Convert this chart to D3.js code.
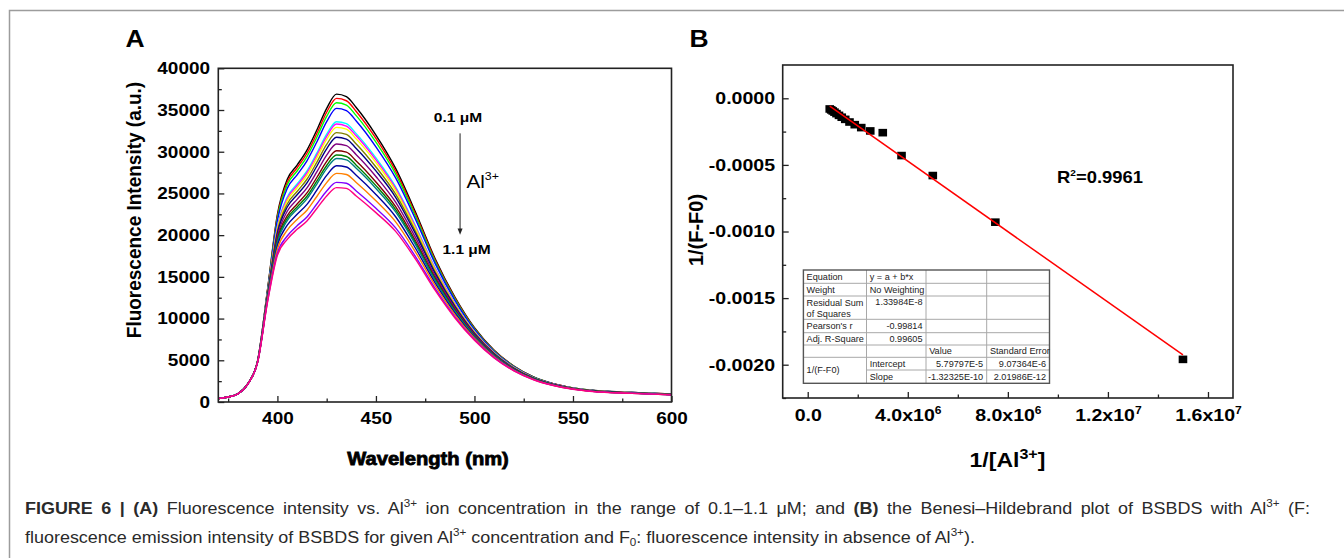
<!DOCTYPE html>
<html><head><meta charset="utf-8">
<script src="https://cdn.jsdelivr.net/npm/d3@7"></script>
<style>html,body{margin:0;padding:0;background:#fff;} svg{display:block;}</style>
</head><body><svg id="c" width="1344" height="558"></svg>
<script>
// ---------------- DATA ----------------
const wavelengths = [370,375,380,385,390,395,400,405,410,415,420,425,430,435,440,450,460,470,480,490,500,510,520,530,540,550,560,580,600];
const spectra = [
 [400,600,1000,2200,5000,13500,22500,26700,28400,30200,32600,35200,36900,36600,35300,32000,28000,22800,17200,12600,8900,6200,4300,3000,2200,1700,1400,1150,950],
 [400,600,1000,2200,4990,13430,22280,26380,28060,29820,32180,34730,36400,36110,34830,31590,27670,22550,17030,12490,8830,6160,4280,2990,2190,1690,1390,1150,950],
 [400,600,1000,2200,4980,13360,22050,26040,27690,29420,31740,34230,35870,35590,34330,31140,27310,22290,16850,12370,8760,6110,4250,2970,2180,1680,1390,1140,940],
 [400,600,1000,2190,4970,13270,21760,25610,27230,28910,31170,33600,35200,34930,33690,30590,26860,21950,16620,12220,8670,6060,4220,2950,2170,1670,1380,1130,935],
 [400,600,990,2190,4940,13060,21050,24580,26130,27690,29830,32100,33600,33360,32170,29260,25790,21150,16080,11860,8460,5930,4140,2900,2140,1650,1360,1115,920],
 [400,600,990,2180,4940,13020,20930,24400,25940,27480,29590,31840,33320,33080,31910,29020,25600,21010,15980,11800,8420,5900,4120,2890,2130,1650,1355,1110,920],
 [400,600,990,2180,4930,12970,20760,24140,25670,27180,29260,31470,32920,32700,31540,28700,25340,20810,15850,11710,8370,5870,4100,2880,2120,1640,1350,1110,915],
 [400,600,990,2180,4920,12880,20480,23730,25230,26700,28730,30870,32290,32070,30930,28170,24910,20490,15630,11570,8280,5820,4070,2860,2110,1630,1340,1100,910],
 [400,600,990,2180,4910,12810,20240,23370,24840,26270,28260,30350,31730,31520,30400,27700,24540,20210,15440,11450,8210,5770,4040,2850,2100,1620,1335,1095,905],
 [400,600,990,2170,4890,12700,19880,22860,24290,25660,27580,29590,30920,30730,29640,27030,23950,19760,15170,11270,8100,5700,4000,2820,2080,1610,1325,1085,895],
 [400,600,990,2170,4880,12590,19540,22340,23740,25060,26910,28850,30120,29950,28890,26370,23410,19360,14900,11090,7990,5640,3960,2800,2070,1600,1315,1080,890],
 [400,600,990,2170,4870,12520,19310,22010,23380,24660,26470,28350,29600,29430,28390,25940,23060,19100,14720,10970,7920,5590,3940,2790,2060,1590,1310,1070,885],
 [400,600,990,2170,4860,12470,19130,21750,23100,24350,26130,27980,29190,29030,28010,25600,22790,18900,14590,10880,7870,5560,3920,2770,2050,1580,1305,1070,880],
 [400,600,985,2160,4850,12350,18750,21190,22500,23690,25400,27160,28320,28170,27180,24880,22210,18460,14290,10690,7750,5490,3870,2750,2030,1570,1290,1060,875],
 [400,600,985,2160,4830,12230,18350,20590,21870,22990,24630,26300,27400,27270,26310,24110,21590,18000,13980,10480,7630,5410,3830,2720,2010,1560,1280,1050,865],
 [400,600,980,2150,4810,12080,17870,19900,21130,22180,23730,25290,26330,26220,25290,23220,20870,17460,13610,10240,7480,5320,3770,2690,1990,1540,1270,1040,855],
 [400,600,980,2150,4800,12000,17600,19500,20700,21700,23200,24700,25700,25600,24700,22700,20450,17150,13400,10100,7400,5270,3740,2670,1980,1530,1260,1030,850]
];
const seriesColors = ["#000000","#FF0000","#00FF00","#0000FF","#00FFFF","#FF00FF","#FFFF00","#808000","#000080","#800080","#800000","#008000","#008080","#0000A0","#FF8000","#8000FF","#FF0080"];
const xTicksA = [400,450,500,550,600];
const xMinorA = [375,425,475,525,575];
const yTicksA = [0,5000,10000,15000,20000,25000,30000,35000,40000];
const yMinorA = [2500,7500,12500,17500,22500,27500,32500,37500];

const bhX = [1.5e7,7.5e6,5.0e6,3.75e6,3.0e6,2.5e6,2.14e6,1.88e6,1.67e6,1.5e6,1.36e6,1.25e6,1.15e6,1.07e6,1.0e6,9.4e5,8.8e5];
const bhY = [-0.00196,-0.00093,-0.00058,-0.00043,-0.000258,-0.000245,-0.00022,-0.000198,-0.000178,-0.000158,-0.000142,-0.000128,-0.000115,-0.000104,-0.000095,-0.000087,-0.000080];
const fitIntercept = 5.79797E-5;
const fitSlope = -1.32325E-10;
const xTicksB = [0,4e6,8e6,1.2e7,1.6e7];
const xTickLabelsB = [["0.0",""],["4.0x10","6"],["8.0x10","6"],["1.2x10","7"],["1.6x10","7"]];
const xMinorB = [2e6,6e6,1e7,1.4e7];
const yTicksB = [0,-0.0005,-0.0010,-0.0015,-0.0020];
const yTickLabelsB = ["0.0000","-0.0005","-0.0010","-0.0015","-0.0020"];
const yMinorB = [-0.00025,-0.00075,-0.00125,-0.00175,-0.00225];
const tableRows = [
 ["Equation","y = a + b*x","",""],
 ["Weight","No Weighting","",""],
 [["Residual Sum","of Squares"],"1.33984E-8","",""],
 ["Pearson's r","-0.99814","",""],
 ["Adj. R-Square","0.99605","",""],
 ["","","Value","Standard Error"],
 ["1/(F-F0)","Intercept","5.79797E-5","9.07364E-6"],
 ["","Slope","-1.32325E-10","2.01986E-12"]
];

// ---------------- DRAW ----------------
const svg = d3.select("#c");
const FONT = "'Liberation Sans', Arial, Helvetica, sans-serif";
const SX = 1.15;

svg.append("path").attr("d","M9.5,558 V10.5 H1344").attr("fill","none").attr("stroke","#9c9c9c").attr("stroke-width",1.5);

function label(g, x, y, parts, o) {
  o = o || {};
  const size = o.size || 16;
  let tr = `translate(${x},${y}) scale(${o.sx == null ? SX : o.sx},1)`;
  if (o.rot) tr += ` rotate(${o.rot})`;
  const t = g.append("text").attr("transform", tr)
    .attr("font-family", FONT).attr("font-size", size)
    .attr("font-weight", o.weight || "bold").attr("text-anchor", o.anchor || "start")
    .attr("fill", o.fill || "#000");
  if (o.stroke) t.attr("stroke", o.fill || "#000").attr("stroke-width", o.stroke);
  let shift = 0;
  parts.forEach(p => {
    if (typeof p === "string") p = {t: p};
    const s = t.append("tspan").text(p.t);
    let target = 0;
    if (p.sup) { target = -size * 0.42; s.attr("font-size", size * (p.scale || 0.62)); }
    if (p.sub) { target = size * 0.22; s.attr("font-size", size * 0.65); }
    if (p.bold) s.attr("font-weight", "bold");
    if (target - shift !== 0) s.attr("dy", target - shift);
    shift = target;
  });
  return t;
}

// ===== Panel A =====
const gA = svg.append("g");
const xA = d3.scaleLinear().domain([370, 600]).range([218.3, 671.5]);
const yA = d3.scaleLinear().domain([0, 40000]).range([402, 68.3]);

svg.append("defs").append("clipPath").attr("id","clipA").append("rect")
  .attr("x", xA(370)).attr("y", yA(40000)).attr("width", xA(600)-xA(370)).attr("height", yA(0)-yA(40000));

const lineA = d3.line().x((d,i) => xA(wavelengths[i])).y(d => yA(d)).curve(d3.curveMonotoneX);
gA.append("g").attr("clip-path","url(#clipA)").selectAll("path").data(spectra).join("path")
  .attr("d", lineA).attr("fill","none").attr("stroke",(d,i)=>seriesColors[i]).attr("stroke-width",1.4);

function axisStyle(g) {
  g.select(".domain").remove();
  g.selectAll(".tick line").attr("stroke","#222").attr("stroke-width",1.3);
}
gA.append("g").attr("transform",`translate(0,${yA(0)})`)
  .call(d3.axisBottom(xA).tickValues(xTicksA).tickSize(-6).tickPadding(10.5).tickSizeOuter(0))
  .call(axisStyle)
  .call(g => g.selectAll("text").attr("font-family",FONT).attr("font-size",16.5).attr("font-weight","bold").attr("fill","#000").attr("transform",`scale(${SX},1)`));
gA.append("g").attr("transform",`translate(0,${yA(0)})`)
  .call(d3.axisBottom(xA).tickValues(xMinorA).tickSize(-3.5).tickFormat("").tickSizeOuter(0)).call(axisStyle);
gA.append("g").attr("transform",`translate(${xA(370)},0)`)
  .call(d3.axisLeft(yA).tickValues(yTicksA).tickSize(-6).tickPadding(7.2).tickSizeOuter(0).tickFormat(d3.format("d")))
  .call(axisStyle)
  .call(g => g.selectAll("text").attr("font-family",FONT).attr("font-size",16.5).attr("font-weight","bold").attr("fill","#000").attr("transform",`scale(${SX},1)`));
gA.append("g").attr("transform",`translate(${xA(370)},0)`)
  .call(d3.axisLeft(yA).tickValues(yMinorA).tickSize(-3.5).tickFormat("").tickSizeOuter(0)).call(axisStyle);
gA.append("rect").attr("x",xA(370)).attr("y",yA(40000)).attr("width",xA(600)-xA(370)).attr("height",yA(0)-yA(40000))
  .attr("fill","none").attr("stroke","#222").attr("stroke-width",1.6);

label(gA, 135, 46.5, ["A"], {size: 23, anchor: "middle"});
label(gA, 141, 210, ["Fluorescence Intensity (a.u.)"], {size: 19, rot: -90, anchor: "middle", sx: 1.05});
label(gA, 428, 464.5, ["Wavelength (nm)"], {size: 18, anchor: "middle", sx: 1.12, stroke: 0.8});

const arX = xA(492.7);
label(gA, xA(491.6), yA(33620), ["0.1 \u03bcM"], {size: 13.5, anchor: "middle"});
gA.append("line").attr("x1",arX).attr("x2",arX).attr("y1",yA(32200)).attr("y2",yA(20700)).attr("stroke","#222").attr("stroke-width",1);
gA.append("path").attr("d",`M${arX-2.5},${yA(20800)} L${arX+2.5},${yA(20800)} L${arX},${yA(20050)} Z`).attr("fill","#222");
label(gA, xA(495.9), yA(25700), ["Al", {t:"3+", sup:true, scale:0.6}], {size: 18, weight: "normal"});
label(gA, xA(496.0), yA(17700), ["1.1 \u03bcM"], {size: 13.5, anchor: "middle"});

// ===== Panel B =====
const gB = svg.append("g");
const xB = d3.scaleLinear().domain([-1e6, 1.7e7]).range([782.7, 1233]);
const yB = d3.scaleLinear().domain([-0.00225, 0.00025]).range([398, 65]);

gB.append("g").attr("transform",`translate(0,${yB(-0.00225)})`)
  .call(d3.axisBottom(xB).tickValues(xTicksB).tickSize(-6).tickPadding(11).tickSizeOuter(0).tickFormat((d,i)=>xTickLabelsB[i][0]))
  .call(axisStyle)
  .call(g => g.selectAll("text").attr("font-family",FONT).attr("font-size",17).attr("font-weight","bold").attr("fill","#000").attr("transform",`scale(${SX},1)`)
     .each(function(d,i){ const e = xTickLabelsB[i][1]; if (e) d3.select(this).append("tspan").attr("dy",-7).attr("font-size",10.5).text(e); }));
gB.append("g").attr("transform",`translate(0,${yB(-0.00225)})`)
  .call(d3.axisBottom(xB).tickValues(xMinorB).tickSize(-3.5).tickFormat("").tickSizeOuter(0)).call(axisStyle);
gB.append("g").attr("transform",`translate(${xB(-1e6)},0)`)
  .call(d3.axisLeft(yB).tickValues(yTicksB).tickSize(-6).tickPadding(6.7).tickSizeOuter(0).tickFormat((d,i)=>yTickLabelsB[i]))
  .call(axisStyle)
  .call(g => g.selectAll("text").attr("font-family",FONT).attr("font-size",17).attr("font-weight","bold").attr("fill","#000").attr("transform",`scale(${SX},1)`));
gB.append("g").attr("transform",`translate(${xB(-1e6)},0)`)
  .call(d3.axisLeft(yB).tickValues(yMinorB).tickSize(-3.5).tickFormat("").tickSizeOuter(0)).call(axisStyle);

gB.append("g").selectAll("rect").data(bhX).join("rect")
  .attr("x", d => xB(d) - 4.3).attr("y", (d,i) => yB(bhY[i]) - 3.8)
  .attr("width", 8.6).attr("height", 7.6).attr("fill", "#000");
const fx = d3.extent(bhX);
gB.append("line").attr("x1", xB(fx[0])).attr("y1", yB(fitIntercept + fitSlope*fx[0]))
  .attr("x2", xB(fx[1])).attr("y2", yB(fitIntercept + fitSlope*fx[1]))
  .attr("stroke", "#FF0000").attr("stroke-width", 1.5);

gB.append("rect").attr("x",xB(-1e6)).attr("y",yB(0.00025)).attr("width",xB(1.7e7)-xB(-1e6)).attr("height",yB(-0.00225)-yB(0.00025))
  .attr("fill","none").attr("stroke","#222").attr("stroke-width",1.6);

label(gB, 699, 46.5, ["B"], {size: 23, anchor: "middle"});
label(gB, 703, 230, ["1/(F-F0)"], {size: 20, rot: -90, anchor: "middle", sx: 1.05});
label(gB, 1007.5, 467, ["1/[Al", {t:"3+", sup:true, scale:0.7}, "]"], {size: 20, anchor: "middle"});
label(gB, 1057, 183, ["R", {t:"2", sup:true, scale:0.55}, "=0.9961"], {size: 16});

const tCols = [803.4, 866.5, 926, 986.7, 1049.5];
const tRows = [270, 283.3, 296, 319.3, 332.7, 345, 357.3, 370, 383.3];
const gT = gB.append("g");
gT.append("rect").attr("x",tCols[0]).attr("y",tRows[0]).attr("width",tCols[4]-tCols[0]).attr("height",tRows[8]-tRows[0]).attr("fill","#fff");
for (let r = 1; r < 8; r++) {
  const x0 = (r === 7) ? tCols[1] : tCols[0];
  gT.append("line").attr("x1",x0).attr("x2",tCols[4]).attr("y1",tRows[r]).attr("y2",tRows[r]).attr("stroke","#a8a8a8").attr("stroke-width",1);
}
for (let c = 1; c < 4; c++) {
  gT.append("line").attr("x1",tCols[c]).attr("x2",tCols[c]).attr("y1",tRows[0]).attr("y2",tRows[8]).attr("stroke","#a8a8a8").attr("stroke-width",1);
}
gT.append("rect").attr("x",tCols[0]).attr("y",tRows[0]).attr("width",tCols[4]-tCols[0]).attr("height",tRows[8]-tRows[0])
  .attr("fill","none").attr("stroke","#555").attr("stroke-width",1.4);
const tOpt = {size: 8.3, weight: "normal", sx: 1.1, fill: "#222"};
tableRows.forEach((row, r) => {
  row.forEach((cell, c) => {
    if (!cell) return;
    const numeric = typeof cell === "string" && /^-?\d/.test(cell) && !(r === 6 && c === 0);
    const xx = numeric ? tCols[c+1] - 3.5 : tCols[c] + 3.2;
    const anchor = numeric ? "end" : "start";
    if (Array.isArray(cell)) {
      label(gT, xx, tRows[r] + 10, [cell[0]], Object.assign({anchor}, tOpt));
      label(gT, xx, tRows[r] + 20.5, [cell[1]], Object.assign({anchor}, tOpt));
    } else if (r === 2) {
      label(gT, xx, tRows[r] + 9, [cell], Object.assign({anchor}, tOpt));
    } else if (r === 6 && c === 0) {
      label(gT, xx, (tRows[6] + tRows[8]) / 2 + 3, [cell], Object.assign({anchor}, tOpt));
    } else {
      label(gT, xx, (tRows[r] + tRows[r+1]) / 2 + 3, [cell], Object.assign({anchor}, tOpt));
    }
  });
});

// ===== Caption (justified first line, natural last line) =====
const capOpt = {size: 16, weight: "normal", sx: 1, fill: "#2a2a2a"};
const cap1 = label(svg, 25, 513.5, [
  {t:"FIGURE 6 | (A)", bold:true}, " Fluorescence intensity vs. Al", {t:"3+", sup:true, scale:0.65},
  " ion concentration in the range of 0.1\u20131.1 \u03bcM; and ", {t:"(B)", bold:true},
  " the Benesi\u2013Hildebrand plot of BSBDS with Al", {t:"3+", sup:true, scale:0.65}, " (F:"], capOpt);
const cap2 = label(svg, 25, 542.5, [
  "fluorescence emission intensity of BSBDS for given Al", {t:"3+", sup:true, scale:0.65},
  " concentration and F", {t:"0", sub:true}, ": fluorescence intensity in absence of Al", {t:"3+", sup:true, scale:0.65}, ")."], capOpt);
const w2 = cap2.node().getComputedTextLength();
const capSX = 950 / w2;
cap2.attr("transform", `translate(25,542.5) scale(${capSX},1)`);
cap1.attr("transform", `translate(25,513.5) scale(${capSX},1)`);
const w1 = cap1.node().getComputedTextLength();
const nSpaces = (cap1.text().match(/ /g) || []).length;
const target1 = 1285 / capSX;
cap1.style("word-spacing", Math.max(0, (target1 - w1) / nSpaces) + "px");
</script>
</body></html>
